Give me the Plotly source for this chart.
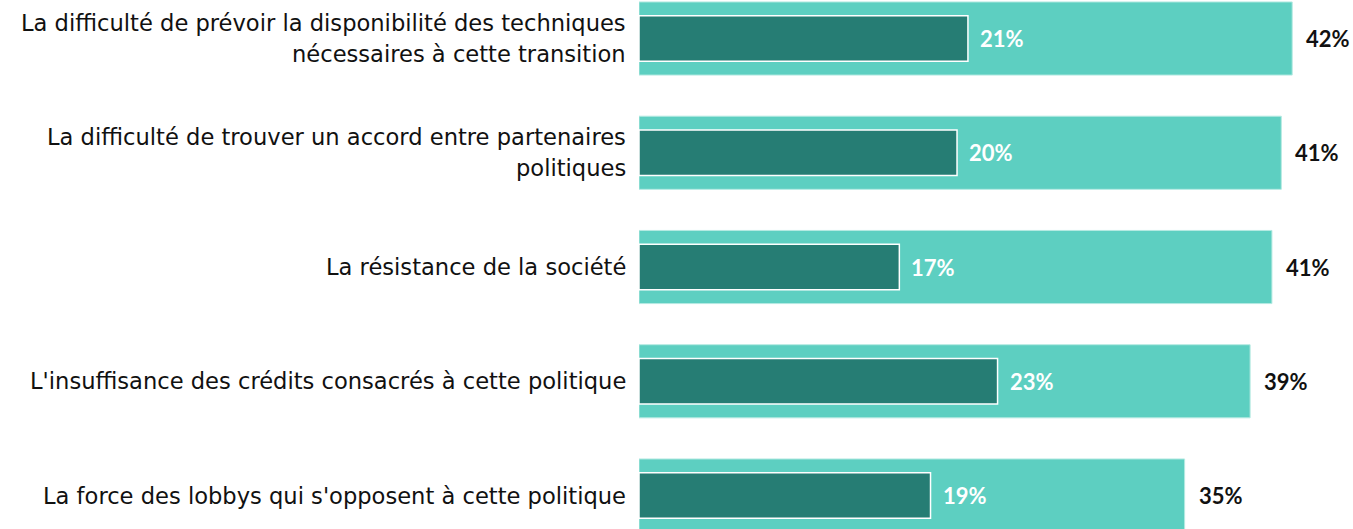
import plotly.graph_objects as go

categories = [
    "La difficulté de prévoir la disponibilité des techniques<br>nécessaires à cette transition",
    "La difficulté de trouver un accord entre partenaires<br>politiques",
    "La résistance de la société",
    "L'insuffisance des crédits consacrés à cette politique",
    "La force des lobbys qui s'opposent à cette politique",
]
total_values = [41.9, 41.2, 40.6, 39.2, 35.0]
total_labels = ["42%", "41%", "41%", "39%", "35%"]
first_values = [21.1, 20.4, 16.7, 23.0, 18.7]
first_labels = ["21%", "20%", "17%", "23%", "19%"]

LIGHT = "#5DCFC1"
DARK = "#267D74"

pos = list(range(len(categories)))

fig = go.Figure()
fig.add_trace(go.Bar(
    y=pos, x=total_values, orientation="h", width=0.64,
    marker=dict(color=LIGHT, line=dict(color="#B5EAE2", width=1)),
    hoverinfo="skip", showlegend=False,
))
fig.add_trace(go.Bar(
    y=pos, x=first_values, orientation="h", width=0.40,
    marker=dict(color=DARK, line=dict(color="white", width=1.5)),
    hoverinfo="skip", showlegend=False,
))

annotations = []
label_font = dict(family="DejaVu Sans", size=22.6, color="#111111")
for i, cat in enumerate(categories):
    lines = cat.split("<br>")
    n = len(lines)
    for j, line in enumerate(lines):
        annotations.append(dict(
            x=0, xref="paper", y=i, yref="y", text=line, showarrow=False,
            xanchor="right", yanchor="middle", xshift=-11,
            yshift=-(j - (n - 1) / 2) * 31, font=label_font,
        ))
pct_font_dark = dict(family="Lato", size=22, color="white")
pct_font_light = dict(family="Lato", size=22, color="#111111")
for i in pos:
    annotations.append(dict(
        x=first_values[i], y=i, xref="x", yref="y",
        text="<b>" + first_labels[i] + "</b>", showarrow=False,
        xanchor="left", yanchor="middle", xshift=10, font=pct_font_dark,
    ))
    annotations.append(dict(
        x=total_values[i], y=i, xref="x", yref="y",
        text="<b>" + total_labels[i] + "</b>", showarrow=False,
        xanchor="left", yanchor="middle", xshift=12, font=pct_font_light,
    ))

fig.update_layout(
    width=1353, height=529,
    margin=dict(l=639, r=0, t=0, b=0),
    barmode="overlay",
    plot_bgcolor="white", paper_bgcolor="white",
    xaxis=dict(range=[0, 45.8], visible=False, fixedrange=True),
    yaxis=dict(range=[4.293, -0.337], visible=False, fixedrange=True),
    annotations=annotations,
)

fig.write_html(
    "out.html",
    config={"displayModeBar": False},
    post_script="document.body.style.margin='0';document.body.style.overflow='hidden';",
)
